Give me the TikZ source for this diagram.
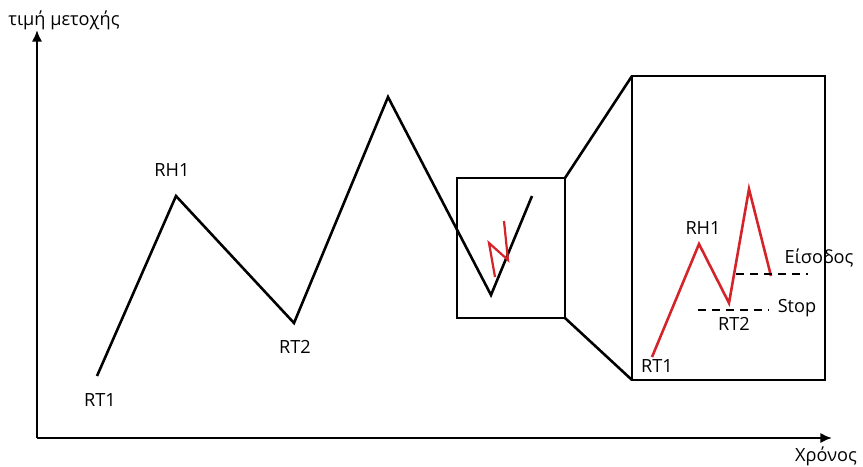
\documentclass[tikz,border=0pt]{standalone}
\usepackage{fontspec}
\setmainfont{Open Sans}
\usetikzlibrary{arrows.meta}
\definecolor{trendred}{RGB}{212,36,42}
\begin{document}
\begin{tikzpicture}[x=.03cm,y=-.03cm,line width=2.2pt,font=\fontsize{15.5}{17}\selectfont,
  axis/.style={-{Latex[length=10pt,width=9pt]}},
  redline/.style={trendred,line join=miter},
  lvl/.style={dashed,dash pattern=on 7pt off 5pt,line width=1.9pt}]
\useasboundingbox (0,0) rectangle (863,466);
\coordinate (o) at (37,438); \coordinate (ytop) at (37,30); \coordinate (xend) at (832,438);
\draw[axis] (o)--(ytop); \draw[axis] (o)--(xend);
\node (ylab) at (64,20) {τιμή μετοχής}; \node (xlab) at (826,456) {Χρόνος};
\coordinate (p1) at (97,376); \coordinate (p2) at (176,196); \coordinate (p3) at (294,323);
\coordinate (p4) at (388,97); \coordinate (p5) at (491,295); \coordinate (p6) at (532,196);
\draw[line join=miter] (p1)--(p2)--(p3)--(p4)--(p5)--(p6);
\node (rt1) at (100,400) {RT1}; \node (rh1) at (172,170) {RH1}; \node (rt2) at (295,347) {RT2};
\draw (457,178) coordinate (s1) rectangle (565,318) coordinate (s2);
\draw (632,76) coordinate (b1) rectangle (825,380) coordinate (b2);
\coordinate (s1r) at (565,178); \coordinate (b1l) at (632,76);
\coordinate (s2r) at (565,318); \coordinate (b2l) at (632,380);
\draw (s1r)--(b1l); \draw (s2r)--(b2l);
\coordinate (q1) at (495,277); \coordinate (q2) at (489,243);
\coordinate (q3) at (508,260); \coordinate (q4) at (504,221);
\draw[redline,line width=1.9pt] (q1)--(q2)--(q3)--(q4);
\coordinate (r1) at (652,357); \coordinate (r2) at (699,244); \coordinate (r3) at (729,303);
\coordinate (r4) at (749,189); \coordinate (r5) at (771,276);
\draw[redline] (r1)--(r2)--(r3)--(r4)--(r5);
\coordinate (e1) at (736,274); \coordinate (e2) at (808,274);
\coordinate (st1) at (698,310); \coordinate (st2) at (769,310);
\draw[lvl] (e1)--(e2); \draw[lvl] (st1)--(st2);
\node (zrh1) at (703,228) {RH1}; \node (zrt2) at (734,324) {RT2}; \node (zrt1) at (657,366) {RT1};
\node (entry) at (819,258) {Είσοδος}; \node (stop) at (797,308) {Stop};
\end{tikzpicture}
\end{document}
